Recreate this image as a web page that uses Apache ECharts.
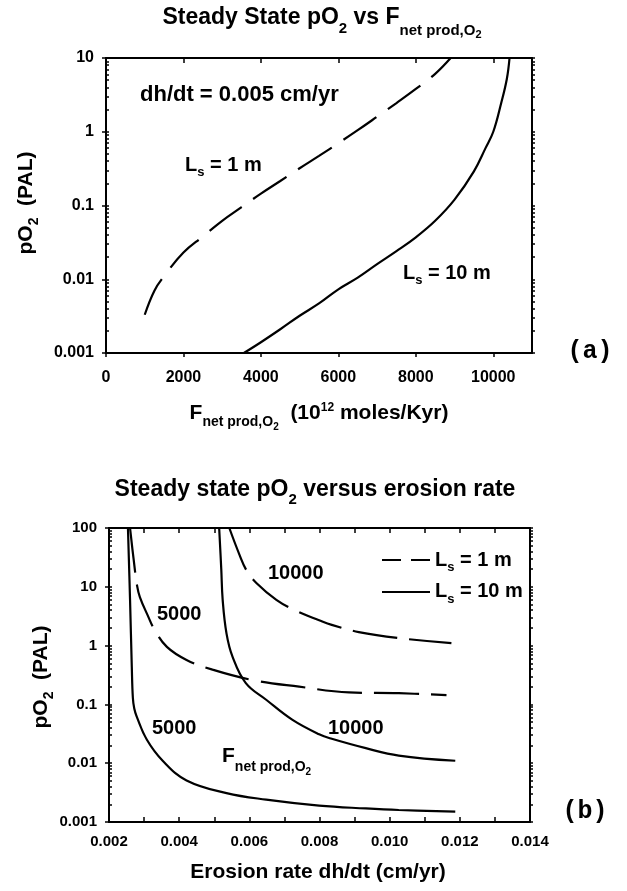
<!DOCTYPE html>
<html><head><meta charset="utf-8">
<script src="https://cdn.jsdelivr.net/npm/echarts@6/dist/echarts.min.js"></script>
<style>html,body{margin:0;padding:0;background:#fff}#c{width:627px;height:891px}</style>
</head><body><div id="c"></div>
<script>
// ---------- Panel (a): steady state pO2 vs F_net prod,O2 (dh/dt = 0.005 cm/yr) ----------
const a_Ls1_F    = [1000,1250,1500,2000,2500,3000,3500,4000,4500,5000,5500,6000,6500,7000,7500,8000,8500,8900];
const a_Ls1_pO2  = [0.0033,0.007,0.011,0.023,0.038,0.062,0.095,0.145,0.215,0.32,0.47,0.7,1.05,1.6,2.45,3.8,6.1,10];
const a_Ls10_F   = [3560,4000,4500,5000,5500,6000,6500,7000,7500,8000,8500,9000,9500,9800,10000,10200,10350,10420];
const a_Ls10_pO2 = [0.001,0.0014,0.0021,0.0032,0.0047,0.0073,0.0105,0.016,0.024,0.037,0.062,0.12,0.29,0.6,1.0,2.4,5.2,10];
const a_xTicks   = [0,2000,4000,6000,8000,10000];
const a_yTicks   = [0.001,0.01,0.1,1,10];

// ---------- Panel (b): steady state pO2 vs erosion rate ----------
const b_Ls10_F5000_dh   = [0.00254,0.0026,0.00265,0.00268,0.00272,0.00279,0.00308,0.00353,0.00421,0.00535,0.00648,0.00799,0.00932,0.01026,0.01187];
const b_Ls10_F5000_pO2  = [100,6,0.43,0.13,0.085,0.062,0.025,0.011,0.0051,0.0031,0.0024,0.0019,0.0017,0.0016,0.0015];
const b_Ls1_F5000_dh    = [0.0026,0.0027,0.0028,0.00288,0.0031,0.0033,0.00365,0.00421,0.00495,0.00609,0.00742,0.00884,0.01026,0.01162];
const b_Ls1_F5000_pO2   = [100,30,10.5,6.7,3.3,1.85,0.95,0.57,0.39,0.26,0.2,0.16,0.155,0.144];
const b_Ls10_F10000_dh  = [0.00514,0.0052,0.00524,0.00535,0.00552,0.0059,0.00648,0.00722,0.00799,0.00835,0.00932,0.01026,0.01187];
const b_Ls10_F10000_pO2 = [100,20,6,1.6,0.65,0.23,0.12,0.055,0.031,0.026,0.018,0.0135,0.011];
const b_Ls1_F10000_dh   = [0.00543,0.00572,0.00592,0.0062,0.00677,0.00733,0.00799,0.00835,0.00912,0.01026,0.01176];
const b_Ls1_F10000_pO2  = [100,35,19,11.6,6,3.9,2.7,2.25,1.7,1.34,1.1];
const b_yTicks = [0.001,0.01,0.1,1,10,100];

// ---------- helpers ----------
const FF = '"Liberation Sans", Arial, Helvetica, sans-serif';
const zip = (xs, ys) => xs.map((x, i) => [x, ys[i]]);
function minorLog(lo, hi) {
  const out = [];
  for (let e = Math.round(Math.log10(lo)); e < Math.round(Math.log10(hi)); e++) {
    for (let k = 2; k <= 9; k++) out.push(+(k * Math.pow(10, e)).toPrecision(3));
  }
  return out;
}
const fmtLog = v => String(Number(Number(v).toPrecision(6)));
const mk = (M, L) => ({fontFamily: FF, fontWeight: 'bold', fontSize: M, lineHeight: L, fill: '#000', color: '#000'});
// baseline shift d (px, positive = down) relative to main text baseline
function shifted(S, d, M, L) {
  const pt = L / 2 + 0.3465 * (M - S) - S / 2 + d;
  return {fontFamily: FF, fontWeight: 'bold', fontSize: S, height: S, lineHeight: 1,
          verticalAlign: 'top', padding: [pt, 0, 0, 0], fill: '#000', color: '#000'};
}
function T(x, y, text, rich, align, rotation) {
  const el = {type: 'text', x: x, y: y, z: 100,
    style: {text: text, rich: rich, align: align || 'left', verticalAlign: 'middle', fill: '#000'}};
  if (rotation) el.rotation = rotation;
  return el;
}
const axisLineS = {show: true, onZero: false, lineStyle: {color: '#000', width: 2}};
const tickS = (inside, len, vals) => {
  const t = {show: true, inside: inside, length: len, lineStyle: {color: '#000', width: 1.5}};
  if (vals) t.customValues = vals;
  return t;
};
const labS = (size, margin) => ({fontFamily: FF, fontWeight: 'bold', fontSize: size, color: '#000', margin: margin});

const a_minor = minorLog(0.001, 10);
const b_minor = minorLog(0.001, 100);
const lineCommon = {type: 'line', symbol: 'none', showSymbol: false, smooth: 0.4, itemStyle: {color: '#000'}};
const S = (o) => Object.assign({}, lineCommon, o);

const chart = echarts.init(document.getElementById('c'), null, {renderer: 'canvas'});
chart.setOption({
  animation: false,
  backgroundColor: '#fff',
  grid: [
    {left: 106, top: 58, width: 426, height: 295},
    {left: 109, top: 528, width: 421, height: 294}
  ],
  xAxis: [
    {gridIndex: 0, type: 'value', position: 'bottom', min: 0, max: 11000, interval: 2000,
     axisLine: axisLineS, axisTick: tickS(false, 4, a_xTicks), splitLine: {show: false},
     axisLabel: Object.assign(labS(16, 17), {customValues: a_xTicks, formatter: v => String(v)})},
    {gridIndex: 0, type: 'value', position: 'top', min: 0, max: 11000, interval: 2000,
     axisLine: axisLineS, axisTick: tickS(true, 5, a_xTicks), splitLine: {show: false}, axisLabel: {show: false}},
    {gridIndex: 1, type: 'value', position: 'bottom', min: 0.002, max: 0.014, interval: 0.001,
     axisLine: axisLineS, axisTick: tickS(true, 5), splitLine: {show: false},
     axisLabel: Object.assign(labS(15, 12), {formatter: v => (Math.round(v * 1000) % 2 === 0 ? Number(v).toFixed(3) : '')})},
    {gridIndex: 1, type: 'value', position: 'top', min: 0.002, max: 0.014, interval: 0.001,
     axisLine: axisLineS, axisTick: tickS(true, 5), splitLine: {show: false}, axisLabel: {show: false}}
  ],
  yAxis: [
    {gridIndex: 0, type: 'log', logBase: 10, position: 'left', min: 0.001, max: 10,
     axisLine: axisLineS, axisTick: tickS(false, 4, a_yTicks), splitLine: {show: false},
     axisLabel: Object.assign(labS(16, 12), {customValues: a_yTicks, formatter: fmtLog})},
    {gridIndex: 0, type: 'log', logBase: 10, position: 'left', min: 0.001, max: 10,
     axisLine: {show: false, onZero: false}, axisTick: tickS(true, 3, a_minor.concat(a_yTicks)), splitLine: {show: false},
     axisLabel: {show: false}},
    {gridIndex: 0, type: 'log', logBase: 10, position: 'right', min: 0.001, max: 10,
     axisLine: axisLineS, axisTick: tickS(false, 3, a_minor.concat(a_yTicks)), splitLine: {show: false},
     axisLabel: {show: false}},
    {gridIndex: 1, type: 'log', logBase: 10, position: 'left', min: 0.001, max: 100,
     axisLine: axisLineS, axisTick: tickS(false, 4, b_yTicks), splitLine: {show: false},
     axisLabel: Object.assign(labS(15, 12), {customValues: b_yTicks, formatter: fmtLog})},
    {gridIndex: 1, type: 'log', logBase: 10, position: 'left', min: 0.001, max: 100,
     axisLine: {show: false, onZero: false}, axisTick: tickS(true, 3, b_minor.concat(b_yTicks)), splitLine: {show: false},
     axisLabel: {show: false}},
    {gridIndex: 1, type: 'log', logBase: 10, position: 'right', min: 0.001, max: 100,
     axisLine: axisLineS, axisTick: tickS(false, 3, b_minor.concat(b_yTicks)), splitLine: {show: false},
     axisLabel: {show: false}}
  ],
  legend: {
    orient: 'vertical', left: 381, top: 547, padding: 0, itemGap: 5,
    itemWidth: 48, itemHeight: 14, selectedMode: false,
    itemStyle: {opacity: 0, borderWidth: 0},
    data: [{name: 'Ls1', lineStyle: {type: [19, 10], width: 2, color: '#000'}},
           {name: 'Ls10', lineStyle: {type: 'solid', width: 2, color: '#000'}}],
    formatter: n => n === 'Ls1' ? '{m|L}{s|s}{m| = 1 m}' : '{m|L}{s|s}{m| = 10 m}',
    textStyle: {rich: {m: mk(20, 26), s: shifted(13, 5, 20, 26)}}
  },
  series: [
    S({name: 'top1', xAxisIndex: 0, yAxisIndex: 0, data: zip(a_Ls1_F, a_Ls1_pO2),
       lineStyle: {color: '#000', width: 2.2, type: [40, 14]}}),
    S({name: 'top10', xAxisIndex: 0, yAxisIndex: 0, data: zip(a_Ls10_F, a_Ls10_pO2),
       lineStyle: {color: '#000', width: 2.2}}),
    S({name: 'Ls1', xAxisIndex: 2, yAxisIndex: 3, data: zip(b_Ls1_F5000_dh, b_Ls1_F5000_pO2),
       lineStyle: {color: '#000', width: 2.2, type: [45, 12]}}),
    S({name: 'Ls1', xAxisIndex: 2, yAxisIndex: 3, data: zip(b_Ls1_F10000_dh, b_Ls1_F10000_pO2),
       lineStyle: {color: '#000', width: 2.2, type: [45, 12]}}),
    S({name: 'Ls10', xAxisIndex: 2, yAxisIndex: 3, data: zip(b_Ls10_F5000_dh, b_Ls10_F5000_pO2),
       lineStyle: {color: '#000', width: 2.2}}),
    S({name: 'Ls10', xAxisIndex: 2, yAxisIndex: 3, data: zip(b_Ls10_F10000_dh, b_Ls10_F10000_pO2),
       lineStyle: {color: '#000', width: 2.2}})
  ],
  graphic: [
    // titles
    T(322, 18, '{m|Steady State pO}{s|2}{m| vs F}{n|net prod,O}{nn|2}',
      {m: mk(23, 32), s: shifted(15, 8, 23, 32), n: shifted(15, 10, 23, 32), nn: shifted(11, 13, 23, 32)}, 'center'),
    T(315, 490, '{m|Steady state pO}{s|2}{m| versus erosion rate}',
      {m: mk(23, 32), s: shifted(15, 7, 23, 32)}, 'center'),
    // axis titles
    T(319, 413, '{m|F}{n|net prod,O}{nn|2}{m|  (10}{u|12}{m| moles/Kyr)}',
      {m: mk(21, 30), n: shifted(14, 7, 21, 30), nn: shifted(10, 10, 21, 30), u: shifted(12, -8, 21, 30)}, 'center'),
    T(318, 872, '{m|Erosion rate dh/dt (cm/yr)}', {m: mk(21, 30)}, 'center'),
    T(26, 203, '{m|pO}{s|2}{m|  (PAL)}', {m: mk(21, 30), s: shifted(14, 6, 21, 30)}, 'center', Math.PI / 2),
    T(41, 677, '{m|pO}{s|2}{m|  (PAL)}', {m: mk(21, 30), s: shifted(14, 6, 21, 30)}, 'center', Math.PI / 2),
    // panel (a) annotations
    T(140, 95, '{m|dh/dt = 0.005 cm/yr}', {m: mk(22, 30)}),
    T(185, 165, '{m|L}{s|s}{m| = 1 m}', {m: mk(20, 28), s: shifted(13, 5, 20, 28)}),
    T(403, 273, '{m|L}{s|s}{m| = 10 m}', {m: mk(20, 28), s: shifted(13, 5, 20, 28)}),
    // panel (b) annotations
    T(268, 573, '{m|10000}', {m: mk(20, 28)}),
    T(157, 614, '{m|5000}', {m: mk(20, 28)}),
    T(152, 728, '{m|5000}', {m: mk(20, 28)}),
    T(328, 728, '{m|10000}', {m: mk(20, 28)}),
    T(222, 756, '{m|F}{n|net prod,O}{nn|2}',
      {m: mk(21, 30), n: shifted(14, 9, 21, 30), nn: shifted(10, 12, 21, 30)}),
    // panel letters
    T(590, 352, '{p|(a)}', {p: {fontFamily: '"Liberation Mono", "DejaVu Sans Mono", monospace', fontWeight: 'bold', fontSize: 25, lineHeight: 30, fill: '#000'}}, 'center'),
    T(585, 812, '{p|(b)}', {p: {fontFamily: '"Liberation Mono", "DejaVu Sans Mono", monospace', fontWeight: 'bold', fontSize: 25, lineHeight: 30, fill: '#000'}}, 'center')
  ]
});
</script>
</body></html>
